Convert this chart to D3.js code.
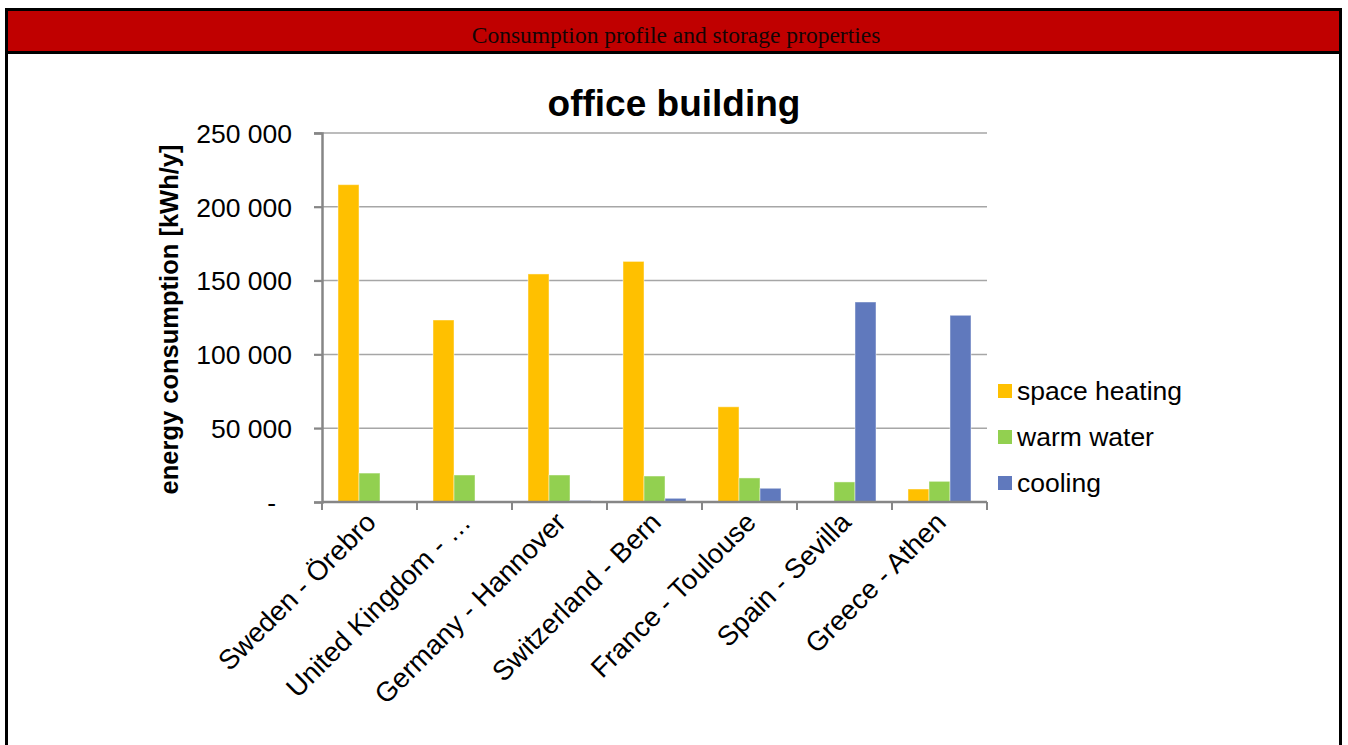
<!DOCTYPE html>
<html>
<head>
<meta charset="utf-8">
<script src="https://cdn.jsdelivr.net/npm/d3@7"></script>
<style>
  html, body { margin: 0; padding: 0; background: #fff; }
  svg { display: block; }
</style>
</head>
<body>
<svg id="chart" width="1348" height="745"></svg>
<script>
// Annual energy demand of an office building at seven European locations
const categories = [
  "Sweden - Örebro",
  "United Kingdom - …",
  "Germany - Hannover",
  "Switzerland - Bern",
  "France - Toulouse",
  "Spain - Sevilla",
  "Greece - Athen"
];
const seriesNames = ["space heating", "warm water", "cooling"];
const spaceHeating = [215000, 123300, 154500, 163000, 64500, 300, 8800];
const warmWater    = [19600, 18300, 18300, 17600, 16300, 13600, 14000];
const cooling      = [500, 300, 1000, 2500, 9300, 135500, 126500];
const yTicks = [0, 50000, 100000, 150000, 200000, 250000];
const colors = ["#FFC000", "#92D050", "#6079BD"];

const svg = d3.select("#chart");

// Page frame with the red heading band
svg.append("rect").attr("x", 0).attr("y", 0).attr("width", 1348).attr("height", 745).attr("fill", "#fff");
svg.append("rect").attr("x", 6.5).attr("y", 9.5).attr("width", 1334).attr("height", 43)
  .attr("fill", "#C00000").attr("stroke", "#000").attr("stroke-width", 3);
svg.append("line").attr("x1", 6.5).attr("x2", 6.5).attr("y1", 9).attr("y2", 745)
  .attr("stroke", "#000").attr("stroke-width", 3);
svg.append("line").attr("x1", 1340.5).attr("x2", 1340.5).attr("y1", 9).attr("y2", 745)
  .attr("stroke", "#000").attr("stroke-width", 3);
svg.append("text").attr("x", 676).attr("y", 43)
  .attr("text-anchor", "middle")
  .attr("font-family", "'Liberation Serif', 'Times New Roman', serif")
  .attr("font-size", 23.5).attr("fill", "#140505")
  .text("Consumption profile and storage properties");

// Plot area
const plot = { left: 322, right: 987, top: 133, bottom: 502 };

const x0 = d3.scaleBand().domain(categories)
  .range([plot.left, plot.right])
  .paddingInner(0.337).paddingOuter(0.337 / 2);
const x1 = d3.scaleBand().domain(seriesNames).range([0, x0.bandwidth()]);
const y = d3.scaleLinear().domain([0, 250000]).range([plot.bottom, plot.top]);

const fmt = v => v === 0 ? "-" : d3.format(",")(v).replace(/,/g, " ");

// Horizontal gridlines
const grid = svg.append("g");
grid.selectAll("line").data(yTicks.filter(t => t > 0)).join("line")
  .attr("x1", plot.left - 8).attr("x2", plot.right)
  .attr("y1", d => y(d)).attr("y2", d => y(d))
  .attr("stroke", "#A6A6A6").attr("stroke-width", 1.5);

// Bars
const rows = categories.map((c, i) => ({
  cat: c,
  vals: [spaceHeating[i], warmWater[i], cooling[i]]
}));
const groups = svg.append("g").selectAll("g").data(rows).join("g")
  .attr("transform", d => `translate(${x0(d.cat)},0)`);
groups.selectAll("rect").data(d => d.vals.map((v, k) => ({ v, k }))).join("rect")
  .attr("x", d => x1(seriesNames[d.k]))
  .attr("width", x1.bandwidth())
  .attr("y", d => y(d.v))
  .attr("height", d => plot.bottom - y(d.v))
  .attr("fill", d => colors[d.k])
  .attr("stroke", "rgba(255,255,255,0.45)")
  .attr("stroke-width", 1);

// Y axis
const yAxis = d3.axisLeft(y).tickValues(yTicks).tickFormat(fmt).tickSize(8).tickPadding(22);
const gy = svg.append("g").attr("transform", `translate(${plot.left},0)`).call(yAxis);
gy.select(".domain").attr("stroke", "#868686").attr("stroke-width", 2.5);
gy.selectAll(".tick line").attr("stroke", "#868686").attr("stroke-width", 2);
gy.selectAll(".tick text")
  .attr("font-family", "'Liberation Sans', Arial, sans-serif")
  .attr("font-size", 26.5).attr("fill", "#000").attr("dy", "0.35em")
  .attr("dx", d => d === 0 ? -16 : 0);

// X axis with tick marks on category boundaries
const gx = svg.append("g").attr("transform", `translate(0,${plot.bottom})`);
gx.append("line").attr("x1", plot.left).attr("x2", plot.right).attr("y1", 0).attr("y2", 0)
  .attr("stroke", "#868686").attr("stroke-width", 2.5);
const bounds = categories.map(c => x0(c) - x0.step() * x0.paddingInner() / 2)
  .concat([plot.right]);
gx.selectAll("line.tk").data(bounds).join("line").attr("class", "tk")
  .attr("x1", d => d).attr("x2", d => d).attr("y1", 0).attr("y2", 8)
  .attr("stroke", "#868686").attr("stroke-width", 2);
gx.selectAll("text").data(categories).join("text")
  .attr("transform", d => `translate(${x0(d) + x0.bandwidth() / 2 + 8},${22}) rotate(-45)`)
  .attr("text-anchor", "end")
  .attr("font-family", "'Liberation Sans', Arial, sans-serif")
  .attr("font-size", 27.5).attr("fill", "#000")
  .text(d => d);

// Titles
svg.append("text").attr("x", 674).attr("y", 116).attr("text-anchor", "middle")
  .attr("font-family", "'Liberation Sans', Arial, sans-serif")
  .attr("font-weight", "bold").attr("font-size", 37).attr("fill", "#000")
  .text("office building");
svg.append("text")
  .attr("transform", `translate(178,${(plot.top + plot.bottom) / 2 + 2}) rotate(-90)`)
  .attr("text-anchor", "middle")
  .attr("font-family", "'Liberation Sans', Arial, sans-serif")
  .attr("font-weight", "bold").attr("font-size", 25.5).attr("fill", "#000")
  .text("energy consumption [kWh/y]");

// Legend
const legend = svg.append("g").attr("transform", "translate(998,390)");
const li = legend.selectAll("g").data(seriesNames).join("g")
  .attr("transform", (d, i) => `translate(0,${i * 46})`);
li.append("rect").attr("x", 0).attr("y", -6).attr("width", 14).attr("height", 14)
  .attr("fill", (d, i) => colors[i]);
li.append("text").attr("x", 19).attr("y", 1).attr("dy", "0.35em")
  .attr("font-family", "'Liberation Sans', Arial, sans-serif")
  .attr("font-size", 26.5).attr("fill", "#000")
  .text(d => d);
</script>
</body>
</html>
